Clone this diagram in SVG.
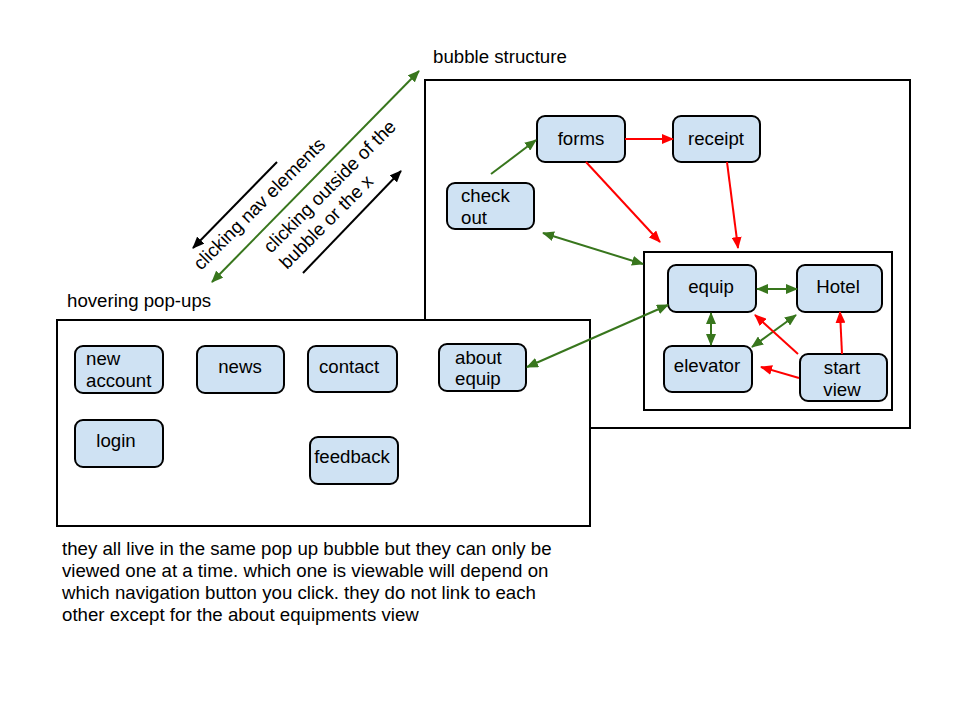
<svg xmlns="http://www.w3.org/2000/svg" width="960" height="720" viewBox="0 0 960 720">
<style>
text{font-family:"Liberation Sans",Arial,sans-serif;font-size:18.67px;fill:#000}
.box{fill:#fff;stroke:#000;stroke-width:2}
.node{fill:#cfe2f3;stroke:#000;stroke-width:2}
.m{text-anchor:middle}
.g{stroke:#38761d;stroke-width:2;fill:none}
.r{stroke:#ff0000;stroke-width:2;fill:none}
.k{stroke:#000;stroke-width:2;fill:none}
</style>
<defs>
<marker id="ag" viewBox="0 0 12 10" refX="11" refY="5" markerWidth="12" markerHeight="10" markerUnits="userSpaceOnUse" orient="auto-start-reverse"><path d="M0,0 L12,5 L0,10 z" fill="#38761d"/></marker>
<marker id="ar" viewBox="0 0 12 10" refX="11" refY="5" markerWidth="12" markerHeight="10" markerUnits="userSpaceOnUse" orient="auto-start-reverse"><path d="M0,0 L12,5 L0,10 z" fill="#ff0000"/></marker>
<marker id="ak" viewBox="0 0 12 10" refX="11" refY="5" markerWidth="12" markerHeight="10" markerUnits="userSpaceOnUse" orient="auto-start-reverse"><path d="M0,0 L12,5 L0,10 z" fill="#000"/></marker>
</defs>
<rect width="960" height="720" fill="#fff"/>

<g id="bubble-structure">
<rect class="box" x="425" y="80" width="485" height="348"/>
<text x="433" y="63">bubble structure</text>
</g>
<g id="inner-box">
<rect class="box" x="644" y="252" width="248" height="158"/>
</g>
<g id="hovering-popups">
<rect class="box" x="57" y="320" width="533" height="206"/>
<text x="67" y="307">hovering pop-ups</text>
</g>

<g id="forms"><rect class="node" x="537" y="116" width="88" height="46" rx="8"/><text class="m" x="581" y="145">forms</text></g>
<g id="receipt"><rect class="node" x="673" y="116" width="87" height="46" rx="8"/><text class="m" x="716" y="145">receipt</text></g>
<g id="check-out"><rect class="node" x="447" y="183" width="87" height="46" rx="8"/><text x="461" y="202">check</text><text x="461" y="224">out</text></g>
<g id="equip"><rect class="node" x="668" y="265" width="88" height="47" rx="8"/><text class="m" x="711" y="293">equip</text></g>
<g id="hotel"><rect class="node" x="797" y="265" width="85" height="47" rx="8"/><text class="m" x="838" y="293">Hotel</text></g>
<g id="elevator"><rect class="node" x="664" y="346" width="88" height="46" rx="8"/><text class="m" x="707" y="372">elevator</text></g>
<g id="start-view"><rect class="node" x="800" y="354" width="87" height="47" rx="8"/><text class="m" x="842" y="374">start</text><text class="m" x="842" y="396">view</text></g>

<g id="new-account"><rect class="node" x="75" y="346" width="88" height="47" rx="8"/><text x="86" y="365">new</text><text x="86" y="387">account</text></g>
<g id="news"><rect class="node" x="197" y="346" width="87" height="47" rx="8"/><text class="m" x="240" y="373">news</text></g>
<g id="contact"><rect class="node" x="308" y="346" width="89" height="46" rx="8"/><text class="m" x="349" y="373">contact</text></g>
<g id="about-equip"><rect class="node" x="439" y="344" width="87" height="47" rx="8"/><text x="455" y="364">about</text><text x="455" y="385">equip</text></g>
<g id="login"><rect class="node" x="75" y="420" width="88" height="47" rx="8"/><text class="m" x="116" y="447">login</text></g>
<g id="feedback"><rect class="node" x="310" y="437" width="88" height="47" rx="8"/><text class="m" x="352" y="463">feedback</text></g>

<g id="connectors">
<line class="g" x1="212" y1="282" x2="419" y2="71" marker-start="url(#ag)" marker-end="url(#ag)"/>
<line class="k" x1="277" y1="162" x2="193" y2="248" marker-end="url(#ak)"/>
<line class="k" x1="303" y1="273" x2="401" y2="171" marker-end="url(#ak)"/>
<line class="g" x1="491" y1="174" x2="536" y2="140" marker-end="url(#ag)"/>
<line class="r" x1="625" y1="139" x2="673" y2="139" marker-end="url(#ar)"/>
<line class="r" x1="586" y1="162" x2="660" y2="242" marker-end="url(#ar)"/>
<line class="r" x1="727" y1="162" x2="738" y2="248" marker-end="url(#ar)"/>
<line class="g" x1="543" y1="233" x2="643" y2="264" marker-start="url(#ag)" marker-end="url(#ag)"/>
<line class="g" x1="527" y1="367" x2="668" y2="305" marker-start="url(#ag)" marker-end="url(#ag)"/>
<line class="g" x1="757" y1="289" x2="797" y2="289" marker-start="url(#ag)" marker-end="url(#ag)"/>
<line class="g" x1="711" y1="313" x2="711" y2="345" marker-start="url(#ag)" marker-end="url(#ag)"/>
<line class="g" x1="752" y1="347" x2="796" y2="315" marker-start="url(#ag)" marker-end="url(#ag)"/>
<line class="r" x1="798" y1="354" x2="755" y2="315" marker-end="url(#ar)"/>
<line class="r" x1="799" y1="378" x2="761" y2="367" marker-end="url(#ar)"/>
<line class="r" x1="842" y1="354" x2="840" y2="312" marker-end="url(#ar)"/>
</g>

<g id="labels">
<text x="201" y="271" transform="rotate(-45 201 271)">clicking nav elements</text>
<text x="271" y="254" transform="rotate(-45 271 254)">clicking outside of the</text>
<text x="287" y="270" transform="rotate(-45 287 270)">bubble or the x</text>
<text x="62" y="555">they all live in the same pop up bubble but they can only be</text>
<text x="62" y="577">viewed one at a time. which one is viewable will depend on</text>
<text x="62" y="599">which navigation button you click. they do not link to each</text>
<text x="62" y="621">other except for the about equipments view</text>
</g>
</svg>
